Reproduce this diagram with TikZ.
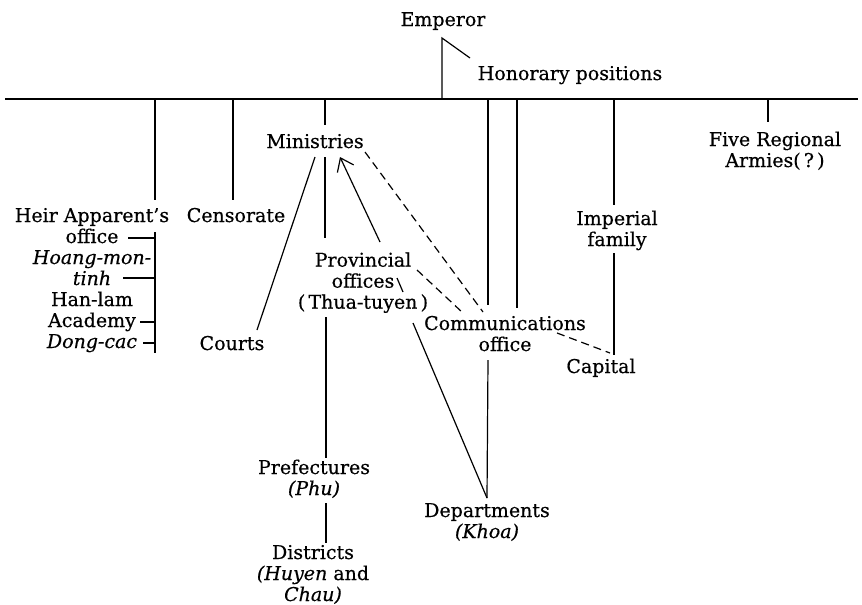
\documentclass[tikz,border=0pt]{standalone}
\usepackage{fontspec}
\setmainfont[FakeBold=0.5]{DejaVu Serif}
\usetikzlibrary{arrows.meta}
\begin{document}
\begin{tikzpicture}[x=1pt,y=-1pt,
  lbl/.style={inner sep=0pt, outer sep=0pt, align=center, anchor=north,
              font=\fontsize{19}{21}\selectfont},
  link/.style={line width=1.2pt},
  dlink/.style={link, dash pattern=on 8pt off 5pt},
  uparrow/.style={link, -{Straight Barb[length=12pt,width=18pt,line width=1.2pt]}}]
\useasboundingbox (0,0) rectangle (862,605);

% ---- labels (top of first line given; every line carries a strut) ----
\node[lbl] (emperor)   at (443,11.3)  {\strut Emperor};
\node[lbl] (honorary)  at (570,65.3)  {\strut Honorary positions};
\node[lbl] (heir)      at (92,207.3)  {\strut Heir Apparent's\\\strut office\\
  \strut\textit{Hoang-mon-}\\\strut\textit{tinh}\\\strut Han-lam\\
  \strut Academy\\\strut\textit{Dong-cac}};
\node[lbl] (censorate) at (236,207.3) {\strut Censorate};
\node[lbl] (courts)    at (232,335.3) {\strut Courts};
\node[lbl] (ministries) at (315,133.3) {\strut Ministries};
\node[lbl] (provincial) at (363,252)  {\strut Provincial\\\strut offices\\\strut(\,Thua-tuyen\,)};
\node[lbl] (comm)      at (505,315.3) {\strut Communications\\\strut office};
\node[lbl] (imperial)  at (617,210.3) {\strut Imperial\\\strut family};
\node[lbl] (capital)   at (601,358.3) {\strut Capital};
\node[lbl] (armies)    at (775,131.3) {\strut Five Regional\\\strut Armies(\,?\,)};
\node[lbl] (prefect)   at (314,459.3) {\strut Prefectures\\\strut\textit{(Phu)}};
\node[lbl] (districts) at (313,544.3) {\strut Districts\\\strut\textit{(Huyen} and\\\strut\textit{Chau)}};
\node[lbl] (depts)     at (487,502.3) {\strut Departments\\\strut\textit{(Khoa)}};

% ---- connection points ----
\coordinate (barL) at (5,99);   \coordinate (barR) at (858,99);
\coordinate (empStem) at (442,38); \coordinate (empBar) at (442,99);
\coordinate (honEnd) at (470,58);
\coordinate (heirBar) at (155,99);   \coordinate (heirTop) at (155,200);
\coordinate (censBar) at (233,99);   \coordinate (censTop) at (233,200);
\coordinate (minBar) at (325,99);    \coordinate (minTop) at (325,125);
\coordinate (deptBar) at (488,99);   \coordinate (deptUp) at (488,305);
\coordinate (deptMid) at (488,360);  \coordinate (deptTip) at (487,498);
\coordinate (commBar) at (517,99);   \coordinate (commTop) at (517,308);
\coordinate (impBar) at (614,99);    \coordinate (impTop) at (614,205);
\coordinate (impLow) at (614,253);   \coordinate (capTop) at (614,355);
\coordinate (armBar) at (768,99);    \coordinate (armTop) at (768,122);
% Heir Apparent's office column
\coordinate (hcTop) at (155,232);    \coordinate (hcBot) at (155,353);
\coordinate (tk1a) at (128,238); \coordinate (tk1b) at (155,238);
\coordinate (tk2a) at (123,278); \coordinate (tk2b) at (155,278);
\coordinate (tk3a) at (140,322); \coordinate (tk3b) at (155,322);
\coordinate (tk4a) at (143,343); \coordinate (tk4b) at (155,343);
% Ministries
\coordinate (minL) at (315,157);  \coordinate (courtsTop) at (257,330);
\coordinate (minC) at (325,157);  \coordinate (provTop) at (325,238);
\coordinate (minTip) at (340,157); \coordinate (provArr) at (380,242);
\coordinate (minR) at (365,152);  \coordinate (commA) at (483,312);
% Provincial offices
\coordinate (provR) at (417,270); \coordinate (commB) at (463,313);
\coordinate (provD1) at (397,278); \coordinate (provD2) at (403,292);
\coordinate (provD3) at (413,323);
\coordinate (provBot) at (326,317); \coordinate (prefTop) at (326,458);
% Communications office / Capital
\coordinate (commR) at (557,333); \coordinate (capL) at (610,353);
% Prefectures / Districts
\coordinate (prefBot) at (326,503); \coordinate (distTop) at (326,543);

% ---- connectors ----
\draw[link] (barL) -- (barR);
\draw[link] (empBar) -- (empStem) -- (honEnd);
\draw[link] (heirBar) -- (heirTop);
\draw[link] (censBar) -- (censTop);
\draw[link] (minBar) -- (minTop);
\draw[link] (deptBar) -- (deptUp);
\draw[link] (deptMid) -- (deptTip);
\draw[link] (commBar) -- (commTop);
\draw[link] (impBar) -- (impTop);
\draw[link] (impLow) -- (capTop);
\draw[link] (armBar) -- (armTop);

\draw[link] (hcTop) -- (hcBot);
\draw[link] (tk1a) -- (tk1b);
\draw[link] (tk2a) -- (tk2b);
\draw[link] (tk3a) -- (tk3b);
\draw[link] (tk4a) -- (tk4b);

\draw[link] (minL) -- (courtsTop);
\draw[link] (minC) -- (provTop);
\draw[uparrow] (provArr) -- (minTip);
\draw[dlink] (minR) -- (commA);

\draw[dlink] (provR) -- (commB);
\draw[link] (provD1) -- (provD2);
\draw[link] (provD3) -- (deptTip);
\draw[link] (provBot) -- (prefTop);

\draw[dlink] (commR) -- (capL);
\draw[link] (prefBot) -- (distTop);
\end{tikzpicture}
\end{document}
